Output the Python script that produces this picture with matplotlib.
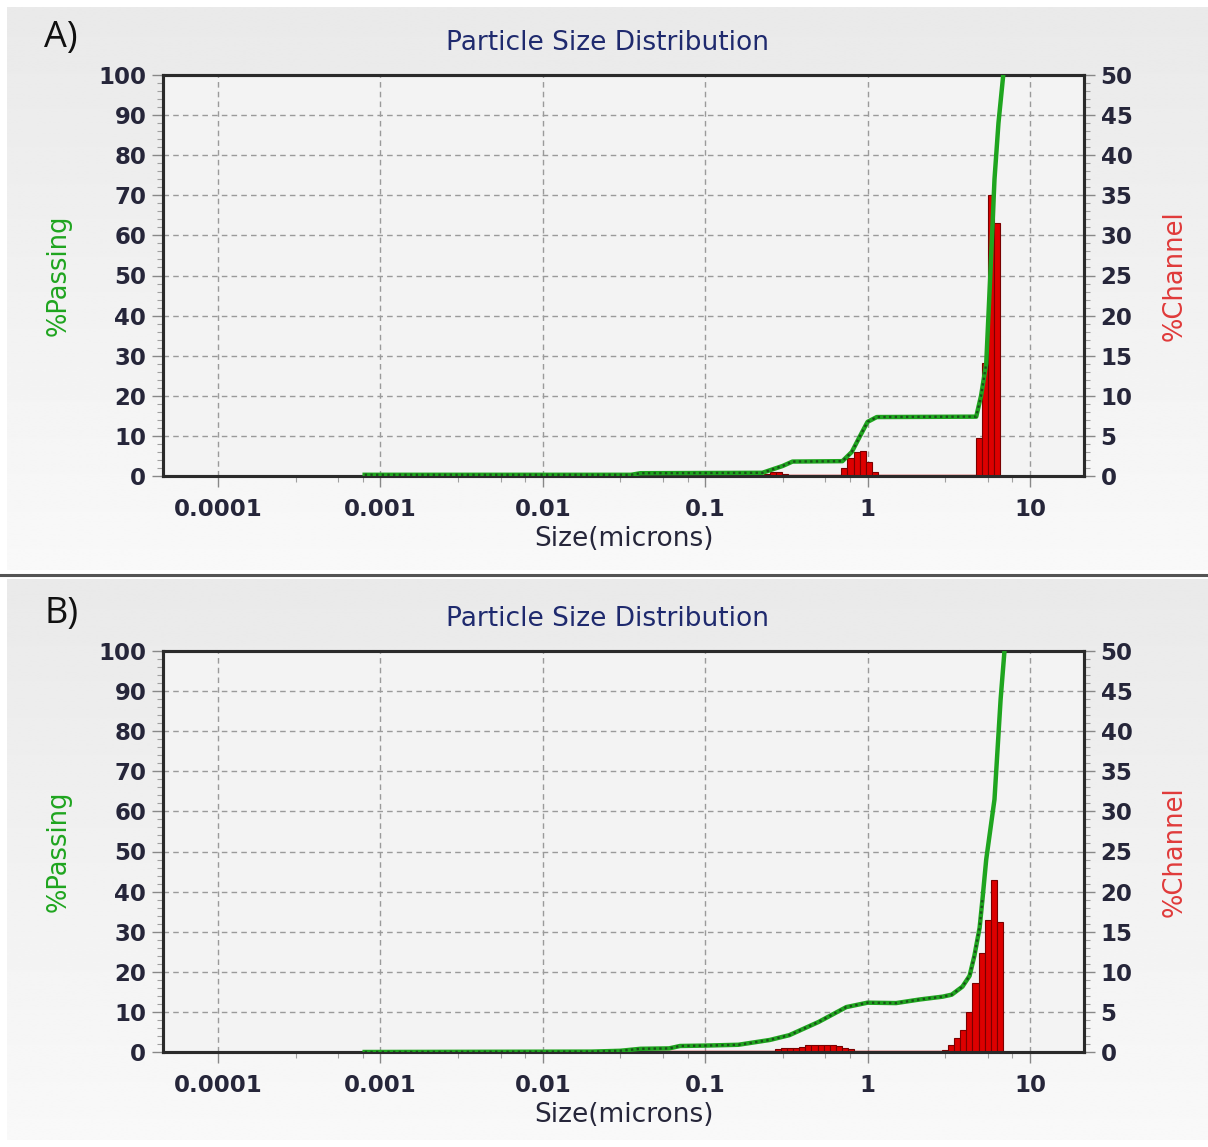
import numpy as np
import matplotlib.pyplot as plt
from matplotlib.lines import Line2D
from matplotlib.ticker import FixedLocator, NullFormatter

# ---- data ----
# %Passing (cumulative) curves: size in microns, percent
passA_size = [0.0008, 0.035, 0.04, 0.225, 0.3, 0.345, 0.7, 0.8, 0.9, 1.0, 1.14,
              4.67, 5.0, 5.38, 5.7, 6.05, 6.4, 6.85]
passA_val = [0.3, 0.3, 0.7, 0.8, 2.5, 3.6, 3.7, 6.0, 10.0, 13.5, 14.7,
             14.8, 20.0, 28.0, 50.0, 74.0, 88.0, 100.0]

passB_size = [0.0008, 0.02, 0.03, 0.04, 0.06, 0.07, 0.1, 0.16, 0.25, 0.33, 0.5,
              0.74, 1.0, 1.5, 2.1, 2.9, 3.3, 3.84, 4.25, 4.55, 4.9, 5.1, 5.38,
              6.05, 6.6, 6.97]
passB_val = [0.0, 0.1, 0.3, 0.8, 0.9, 1.5, 1.6, 1.8, 3.0, 4.2, 7.5,
             11.2, 12.3, 12.2, 13.1, 13.8, 14.3, 16.3, 19.0, 24.0, 31.0, 38.0, 48.0,
             63.0, 88.0, 100.0]

# %Channel histograms: channel centre size (microns), percent
chanA_size = [0.24, 0.262, 0.285, 0.311,
              0.72, 0.785, 0.856, 0.934, 1.018, 1.11,
              4.85, 5.29, 5.77, 6.29]
chanA_val = [0.3, 0.5, 0.5, 0.3,
             1.0, 2.2, 3.0, 3.1, 1.8, 0.5,
             4.7, 14.1, 35.0, 31.5]

chanB_size = [0.28, 0.305, 0.333, 0.363, 0.396, 0.432, 0.471, 0.514, 0.56,
              0.611, 0.666, 0.727, 0.793,
              3.0, 3.27, 3.57, 3.89, 4.24, 4.62, 5.04, 5.5, 6.0, 6.54]
chanB_val = [0.4, 0.5, 0.5, 0.5, 0.6, 0.9, 0.9, 0.9, 0.9,
             0.9, 0.8, 0.5, 0.4,
             0.25, 0.9, 1.7, 2.8, 5.0, 8.6, 12.4, 16.5, 21.4, 16.2]

xticks = [0.0001, 0.001, 0.01, 0.1, 1, 10]
xticklabels = ['0.0001', '0.001', '0.01', '0.1', '1', '10']
left_ticks = list(range(0, 101, 10))
right_ticks = list(range(0, 51, 5))

W, H = 1208, 1147
PLOT_BG = '#f3f3f3'
GRID = '#9a9a9a'
TXT = '#26263a'
GREEN = '#1fa51f'
DKGREEN = '#1a4f1a'
RED = '#dd0000'
EDGE = '#7a0000'
RATIO = 2 ** (1 / 8)


def fx(px):
    return px / W


def fy(py):
    return 1 - py / H


def panel_bg(fig, top_px, bottom_px):
    # grey panel fading towards white at the bottom
    bg = fig.add_axes([fx(7), fy(bottom_px), 1 - fx(7), fy(top_px) - fy(bottom_px)],
                      zorder=-10)
    grad = np.linspace(0.915, 0.975, 256).reshape(-1, 1)
    bg.imshow(np.repeat(grad, 2, axis=1), cmap='gray', vmin=0, vmax=1,
              aspect='auto', extent=[0, 1, 1, 0], interpolation='bilinear')
    bg.set_axis_off()


def draw_panel(fig, top_px, bottom_px, label, psize, pval, csize, cval):
    rect = [fx(163), fy(bottom_px), fx(1084) - fx(163), fy(top_px) - fy(bottom_px)]
    axr = fig.add_axes(rect)          # %Channel (red), carries background + grid
    axl = fig.add_axes(rect, sharex=axr)
    axl.set_zorder(axr.get_zorder() + 1)
    axl.patch.set_visible(False)

    xmin, xmax = 10 ** -4.339, 10 ** 1.333
    for a in (axr, axl):
        a.set_xscale('log')
        a.set_xlim(xmin, xmax)
    axr.set_facecolor(PLOT_BG)
    axr.set_ylim(0, 50)
    axl.set_ylim(0, 100)

    axr.yaxis.tick_right()
    axr.yaxis.set_label_position('right')
    axl.yaxis.tick_left()
    axl.yaxis.set_label_position('left')

    axr.set_yticks(right_ticks)
    axr.set_yticks(np.arange(0, 50.1, 1), minor=True)
    axr.set_xticks(xticks)
    axr.set_xticklabels(xticklabels)
    minors = [d * m for d in xticks for m in (3, 5.5, 7.8)]
    axr.xaxis.set_minor_locator(FixedLocator(minors))
    axr.xaxis.set_minor_formatter(NullFormatter())
    axr.grid(True, which='major', color=GRID, linestyle=(0, (4, 3)), linewidth=1.0)
    axr.set_axisbelow(True)

    axl.set_yticks(left_ticks)
    axl.set_yticks(np.arange(0, 100.1, 2), minor=True)
    axl.tick_params(axis='x', which='both', bottom=False, labelbottom=False)

    for a in (axr, axl):
        a.tick_params(axis='both', which='major', length=8, width=1.0,
                      color='#888888', labelsize=16.5, labelcolor=TXT, pad=4)
        a.tick_params(axis='both', which='minor', length=4, width=0.8,
                      color='#a0a0a0')
        for t in a.get_xticklabels() + a.get_yticklabels():
            t.set_fontweight('bold')
        for s in a.spines.values():
            s.set_color('#2a2a2a')
            s.set_linewidth(2.2)
    axr.tick_params(axis='x', which='major', pad=8)

    # red channel histogram
    c = np.array(csize)
    left = c / np.sqrt(RATIO)
    width = c * (np.sqrt(RATIO) - 1 / np.sqrt(RATIO))
    axr.plot([0.0008, left[-1] + width[-1]], [0, 0], color=RED, lw=2.5,
             solid_capstyle='butt', zorder=2)
    axr.bar(left, cval, width=width, align='edge', color=RED,
            edgecolor=EDGE, linewidth=0.8, zorder=3)

    # green cumulative curve, dark dotted overlay on the lower part
    axl.plot(psize, pval, color=GREEN, lw=3.2, zorder=4, solid_joinstyle='round')
    ps = np.array(psize)
    pv = np.array(pval)
    m = pv <= 40
    axl.plot(ps[m], pv[m], color=DKGREEN, lw=1.7, linestyle=(0, (1.0, 1.4)), zorder=5)

    axl.set_ylabel('%Passing', color=GREEN, fontsize=18.5)
    axl.yaxis.set_label_coords((72 - 163) / 921, 0.5)
    axr.set_ylabel('%Channel', color='#e03a3a', fontsize=18.5)
    axr.yaxis.set_label_coords((1162 - 163) / 921, 0.5)
    axr.set_xlabel('Size(microns)', color=TXT, fontsize=19)
    axr.xaxis.set_label_coords(0.5, (476 - 526) / 401)

    fig.text(fx(608), fy(top_px - 32), 'Particle Size Distribution',
             ha='center', va='center', color='#1f2a6e', fontsize=19)
    fig.text(fx(44), fy(top_px - 37), label, ha='left', va='center',
             color='#111111', fontsize=26, family='Open Sans')


fig = plt.figure(figsize=(W / 100, H / 100), dpi=100)
fig.patch.set_facecolor('white')
panel_bg(fig, 7, 570)
panel_bg(fig, 579, 1140)
fig.lines.append(Line2D([0, 1], [fy(575), fy(575)], transform=fig.transFigure,
                        color='#555555', lw=2.2))

draw_panel(fig, 75, 476, 'A)', passA_size, passA_val, chanA_size, chanA_val)
draw_panel(fig, 651, 1052, 'B)', passB_size, passB_val, chanB_size, chanB_val)

fig.savefig('out.png', dpi=100, facecolor=fig.get_facecolor())
